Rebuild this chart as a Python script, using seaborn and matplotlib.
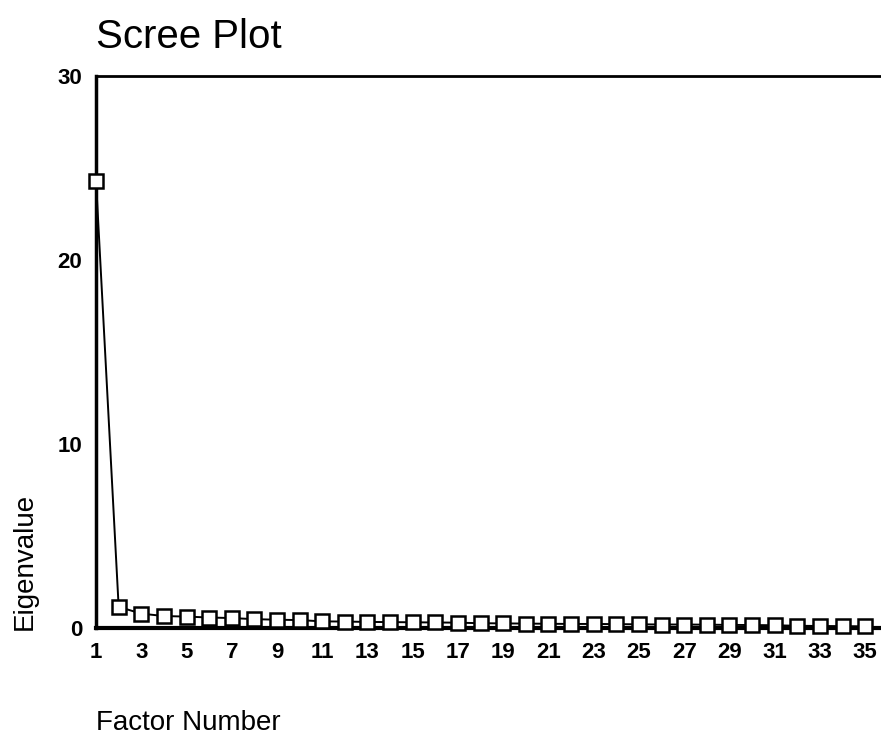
import pandas as pd
import matplotlib
matplotlib.use('Agg')
import matplotlib.pyplot as plt
import seaborn as sns

# valores (scree plot)
factor_number = list(range(1, 36))
eigenvalues = [24.3, 1.15, 0.78, 0.65, 0.62, 0.57, 0.54, 0.48, 0.45, 0.43,
               0.36, 0.35, 0.33, 0.32, 0.31, 0.30, 0.29, 0.26, 0.25, 0.24,
               0.23, 0.22, 0.22, 0.21, 0.20, 0.19, 0.19, 0.18, 0.17, 0.16,
               0.15, 0.12, 0.11, 0.10, 0.09]
x_ticks = list(range(1, 36, 2))
y_ticks = [0, 10, 20, 30]

df = pd.DataFrame({'Factor Number': factor_number, 'Eigenvalue': eigenvalues})

sns.set_style('white')
plt.rcParams['font.family'] = ['Liberation Sans', 'DejaVu Sans']
plt.rcParams['text.color'] = 'black'
plt.rcParams['axes.labelcolor'] = 'black'
plt.rcParams['xtick.color'] = 'black'
plt.rcParams['ytick.color'] = 'black'

fig = plt.figure(figsize=(8.81, 7.41), dpi=100)
ax = fig.add_axes([0.109, 0.1525, 0.891, 0.745])

sns.lineplot(data=df, x='Factor Number', y='Eigenvalue', ax=ax, color='black',
             linewidth=1.4, marker='s', markersize=10, markerfacecolor='white',
             markeredgecolor='black', markeredgewidth=1.8, clip_on=False, zorder=5)

ax.set_xlim(1, 35.7)
ax.set_ylim(0, 30)
ax.set_xticks(x_ticks)
ax.set_yticks(y_ticks)
ax.set_xticklabels([str(t) for t in x_ticks], fontsize=16, fontweight='bold')
ax.set_yticklabels([str(t) for t in y_ticks], fontsize=16, fontweight='bold')
ax.tick_params(axis='x', direction='out', length=4, width=4, color='black', pad=6)
ax.tick_params(axis='y', direction='out', length=4, width=4, color='black', pad=6)

for side in ['left', 'bottom', 'top']:
    ax.spines[side].set_visible(True)
    ax.spines[side].set_color('black')
ax.spines['left'].set_linewidth(2.5)
ax.spines['bottom'].set_linewidth(3)
ax.spines['top'].set_linewidth(2)
ax.spines['right'].set_visible(False)

ax.set_title('Scree Plot', loc='left', fontsize=29, pad=20)
ax.set_xlabel('Factor Number', loc='left', fontsize=20, labelpad=34)
ax.set_ylabel('')
fig.text(25 / 881, 1 - 630 / 741, 'Eigenvalue', rotation=90, fontsize=20,
         ha='center', va='bottom')

fig.savefig('out.png', dpi=100, facecolor='white')
